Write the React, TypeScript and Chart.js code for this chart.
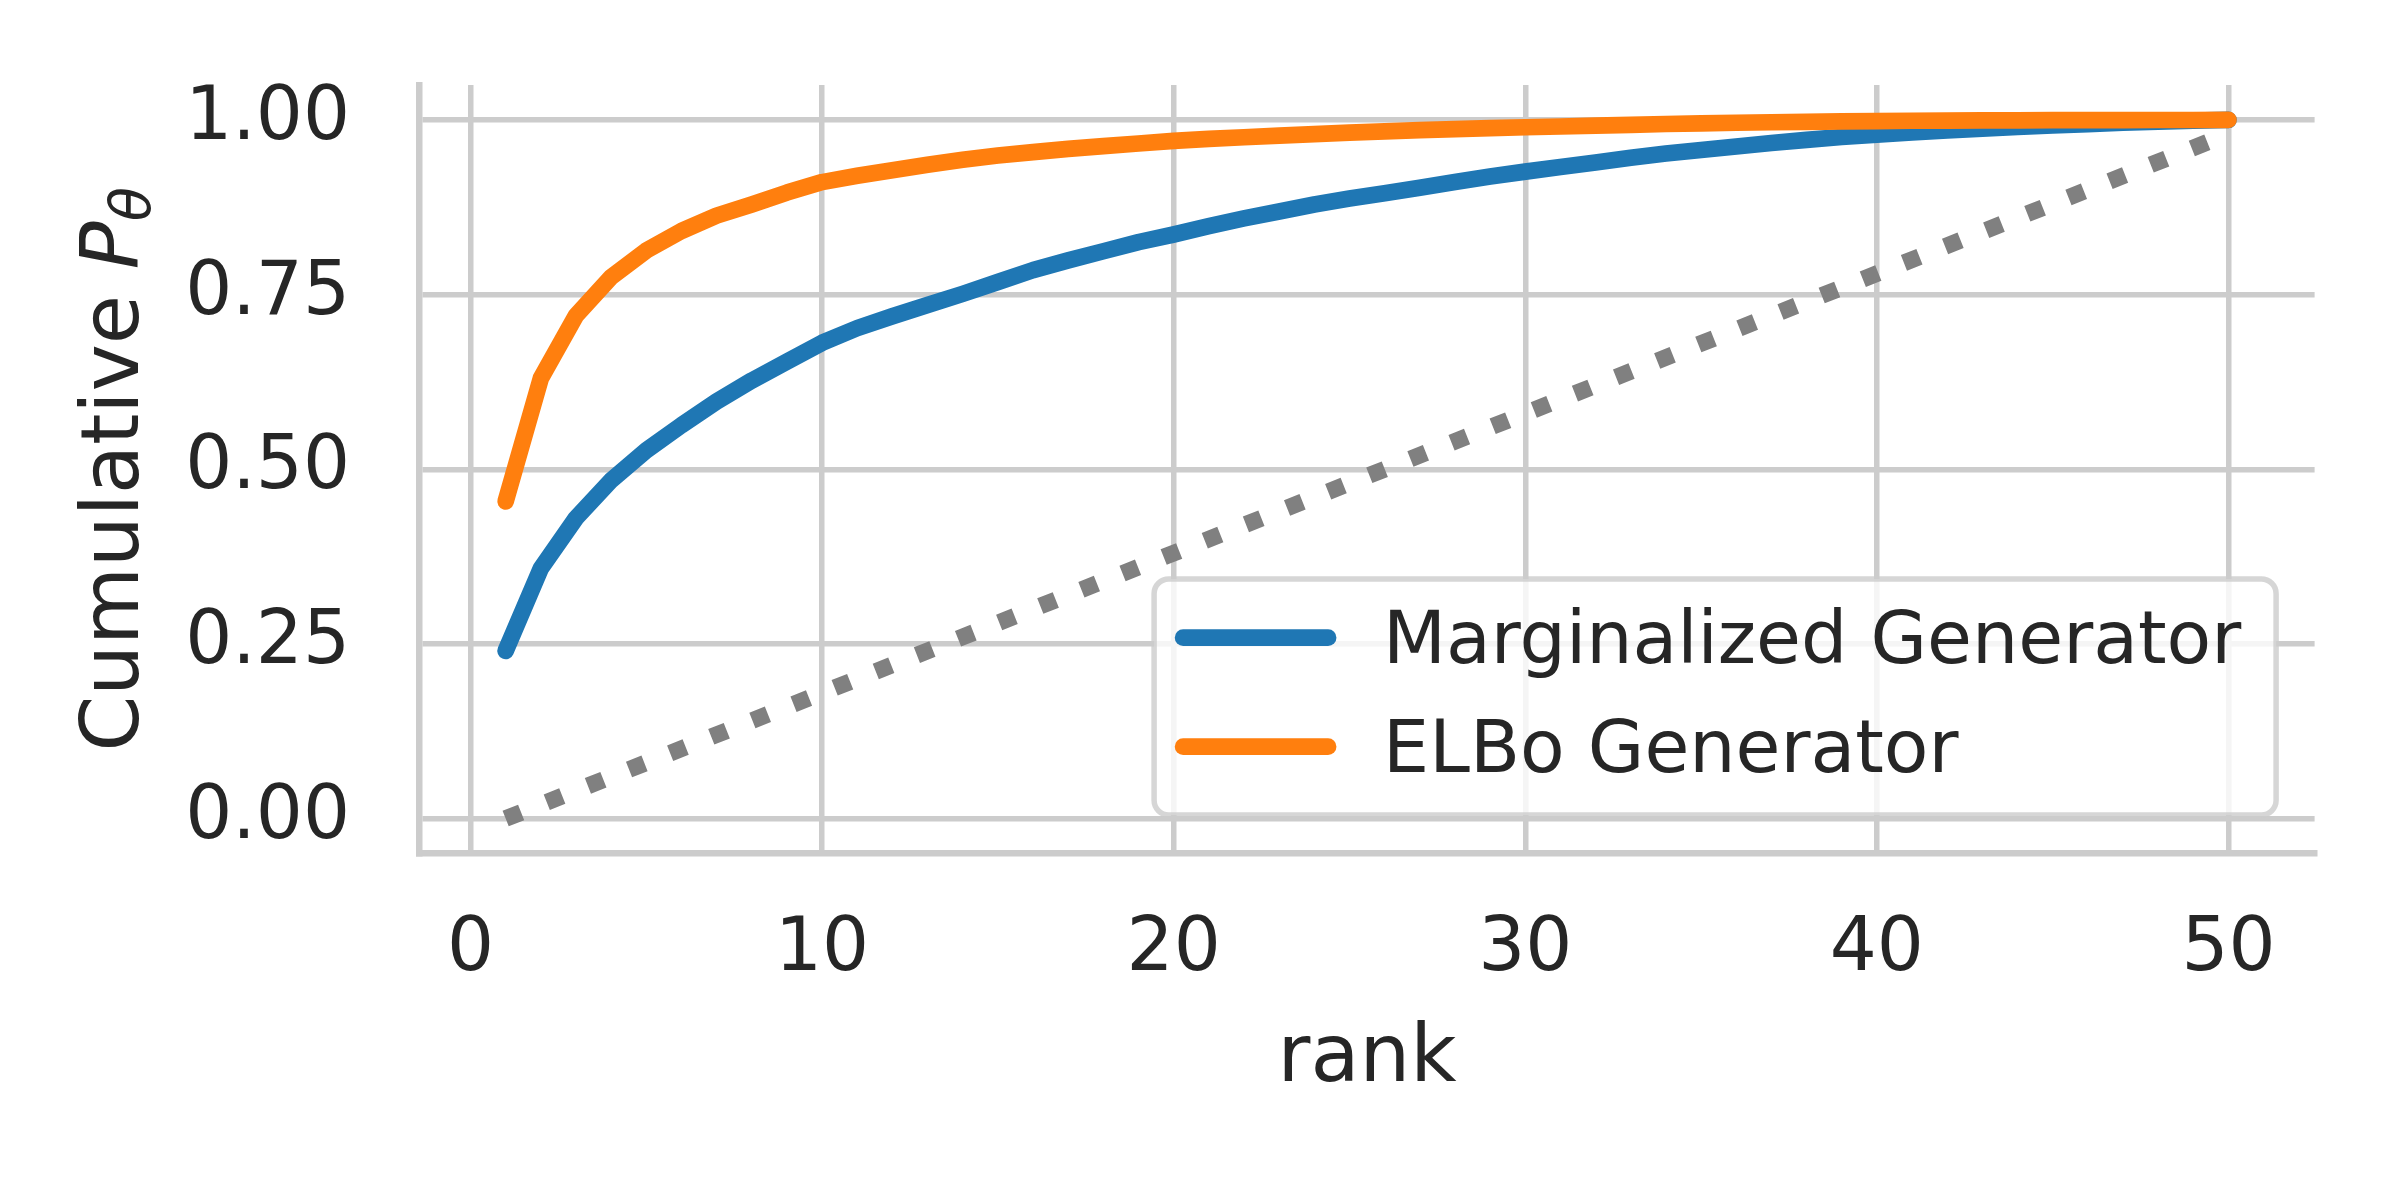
import React, { useEffect, useRef } from 'react';
import { Chart, registerables } from 'chart.js';

Chart.register(...registerables);

const ranks = [
  1, 2, 3, 4, 5, 6, 7, 8, 9, 10,
  11, 12, 13, 14, 15, 16, 17, 18, 19, 20,
  21, 22, 23, 24, 25, 26, 27, 28, 29, 30,
  31, 32, 33, 34, 35, 36, 37, 38, 39, 40,
  41, 42, 43, 44, 45, 46, 47, 48, 49, 50,
];

const marginalized = [
  0.240, 0.358, 0.430, 0.484, 0.527, 0.563, 0.597, 0.627, 0.654, 0.681,
  0.702, 0.719, 0.735, 0.751, 0.768, 0.785, 0.799, 0.812, 0.825, 0.836,
  0.848, 0.859, 0.869, 0.879, 0.8875, 0.895, 0.903, 0.911, 0.919, 0.926,
  0.9325, 0.939, 0.946, 0.952, 0.957, 0.962, 0.967, 0.9715, 0.9755, 0.979,
  0.982, 0.985, 0.9875, 0.990, 0.992, 0.994, 0.996, 0.9975, 0.999, 1.0,
];

const elbo = [
  0.454, 0.630, 0.720, 0.775, 0.813, 0.841, 0.863, 0.879, 0.896, 0.911,
  0.920, 0.928, 0.936, 0.943, 0.949, 0.954, 0.9585, 0.9625, 0.9663, 0.970,
  0.9728, 0.9752, 0.9776, 0.9798, 0.9818, 0.9836, 0.9853, 0.9868, 0.9882, 0.9895,
  0.9906, 0.9918, 0.9930, 0.9942, 0.9952, 0.9960, 0.9967, 0.9973, 0.9979, 0.9984,
  0.9988, 0.9991, 0.9993, 0.9995, 0.9996, 0.9997, 0.9998, 0.9999, 0.9999, 1.0,
];

// uniform reference (dotted) line endpoints
const uniformX = [1, 50];
const uniformY = [0.0, 0.98];

const seriesLabels = ['Marginalized Generator', 'ELBo Generator'];
const seriesColors = ['#1f77b4', '#ff7f0e'];
const xTickLabels = ['0', '10', '20', '30', '40', '50'];
const yTickLabels = ['0.00', '0.25', '0.50', '0.75', '1.00'];
const xTitle = 'rank';
const yTitleMain = 'Cumulative ';
const yTitleSymbol = 'P';
const yTitleSub = 'θ';

const FONT = '"DejaVu Sans", "Noto Sans", sans-serif';
const TEXT = '#262626';
const GRID = '#cccccc';
const LW = 16.7;

const yTitlePlugin = {
  id: 'yTitleMath',
  afterDraw(chart: any) {
    const { ctx, chartArea } = chart;
    const cy = (chartArea.top + chartArea.bottom) / 2;
    const bx = chartArea.left - 281.5;
    ctx.save();
    ctx.fillStyle = TEXT;
    ctx.textBaseline = 'alphabetic';
    ctx.textAlign = 'left';
    const mainFont = `80px ${FONT}`;
    const italFont = `italic 80px ${FONT}`;
    const subFont = `italic 56px ${FONT}`;
    ctx.font = mainFont;
    const w1 = ctx.measureText(yTitleMain).width;
    ctx.font = italFont;
    const w2 = ctx.measureText(yTitleSymbol).width;
    ctx.font = subFont;
    const w3 = ctx.measureText(yTitleSub).width;
    const total = w1 + w2 + w3;
    ctx.translate(bx, cy);
    ctx.rotate(-Math.PI / 2);
    let x = -total / 2;
    ctx.font = mainFont;
    ctx.fillText(yTitleMain, x, 0);
    x += w1;
    ctx.font = italFont;
    ctx.fillText(yTitleSymbol, x, 0);
    x += w2;
    ctx.font = subFont;
    ctx.fillText(yTitleSub, x, 12);
    ctx.restore();
  },
};

const legendPlugin = {
  id: 'boxLegend',
  afterDraw(chart: any) {
    const { ctx, chartArea } = chart;
    const w = 1122;
    const h = 236;
    const right = chartArea.right - 38.5;
    const bottom = chartArea.bottom - 38.5;
    const left = right - w;
    const top = bottom - h;
    const r = 14.7;
    ctx.save();
    ctx.beginPath();
    ctx.moveTo(left + r, top);
    ctx.lineTo(right - r, top);
    ctx.arcTo(right, top, right, top + r, r);
    ctx.lineTo(right, bottom - r);
    ctx.arcTo(right, bottom, right - r, bottom, r);
    ctx.lineTo(left + r, bottom);
    ctx.arcTo(left, bottom, left, bottom - r, r);
    ctx.lineTo(left, top + r);
    ctx.arcTo(left, top, left + r, top, r);
    ctx.closePath();
    ctx.fillStyle = 'rgba(255,255,255,0.8)';
    ctx.fill();
    ctx.lineWidth = 5.5;
    ctx.strokeStyle = 'rgba(204,204,204,0.8)';
    ctx.stroke();

    const rowsLine = [58.7, 167.7];
    const rowsText = [84.3, 192.7];
    for (let i = 0; i < seriesLabels.length; i++) {
      ctx.beginPath();
      ctx.lineWidth = LW;
      ctx.lineCap = 'round';
      ctx.strokeStyle = seriesColors[i];
      ctx.moveTo(left + 29, top + rowsLine[i]);
      ctx.lineTo(left + 174, top + rowsLine[i]);
      ctx.stroke();
      ctx.font = `73px ${FONT}`;
      ctx.fillStyle = TEXT;
      ctx.textAlign = 'left';
      ctx.textBaseline = 'alphabetic';
      ctx.fillText(seriesLabels[i], left + 229, top + rowsText[i]);
    }
    ctx.restore();
  },
};

export default function App() {
  const ref = useRef<HTMLCanvasElement | null>(null);

  useEffect(() => {
    if (!ref.current) return;
    const chart = new Chart(ref.current, {
      type: 'line',
      data: {
        datasets: [
          {
            label: seriesLabels[0],
            data: ranks.map((r, i) => ({ x: r, y: marginalized[i] })),
            borderColor: seriesColors[0],
            backgroundColor: seriesColors[0],
            borderWidth: LW,
            borderCapStyle: 'round',
            borderJoinStyle: 'round',
            pointRadius: 0,
            tension: 0,
            order: 1,
          },
          {
            label: seriesLabels[1],
            data: ranks.map((r, i) => ({ x: r, y: elbo[i] })),
            borderColor: seriesColors[1],
            backgroundColor: seriesColors[1],
            borderWidth: LW,
            borderCapStyle: 'round',
            borderJoinStyle: 'round',
            pointRadius: 0,
            tension: 0,
            order: 0,
          },
          {
            label: 'uniform',
            data: uniformX.map((x, i) => ({ x, y: uniformY[i] })),
            borderColor: '#808080',
            borderWidth: LW,
            borderDash: [LW, LW * 1.65],
            borderCapStyle: 'butt',
            pointRadius: 0,
            tension: 0,
            order: 2,
          },
        ],
      },
      options: {
        animation: false,
        responsive: false,
        devicePixelRatio: 1,
        layout: { padding: { left: 0, top: 85, right: 85.4, bottom: 0 } },
        plugins: {
          legend: { display: false },
          tooltip: { enabled: false },
        },
        scales: {
          x: {
            type: 'linear',
            min: -1.45,
            max: 52.45,
            afterFit: (s: any) => {
              s.height = 346.5;
              s.paddingLeft = 0;
              s.paddingRight = 0;
              s.paddingTop = 0;
              s.paddingBottom = 0;
            },
            ticks: {
              stepSize: 10,
              includeBounds: false,
              autoSkip: false,
              maxRotation: 0,
              padding: 53,
              color: TEXT,
              font: { family: FONT, size: 74 },
              callback: (_v: any, i: number) => xTickLabels[i],
            },
            grid: { color: GRID, lineWidth: 5.5, drawTicks: false },
            border: { display: true, color: GRID, width: 6.5 },
            title: {
              display: true,
              text: xTitle,
              color: TEXT,
              font: { family: FONT, size: 80 },
              padding: { top: 0, bottom: 91.7 },
            },
          },
          y: {
            type: 'linear',
            min: -0.05,
            max: 1.05,
            afterFit: (s: any) => {
              s.width = 419.5;
              s.paddingLeft = 0;
              s.paddingRight = 0;
              s.paddingTop = 0;
              s.paddingBottom = 0;
            },
            ticks: {
              stepSize: 0.25,
              includeBounds: false,
              autoSkip: false,
              padding: 69.5,
              color: TEXT,
              font: { family: FONT, size: 74 },
              callback: (_v: any, i: number) => yTickLabels[i],
            },
            grid: { color: GRID, lineWidth: 5.5, drawTicks: false },
            border: { display: true, color: GRID, width: 6.5 },
          },
        },
      },
      plugins: [yTitlePlugin, legendPlugin],
    } as any);
    return () => chart.destroy();
  }, []);

  return (
    <div style={{ position: 'fixed', left: 0, top: 0, width: 2400, height: 1200, background: '#ffffff' }}>
      <canvas ref={ref} width={2400} height={1200} style={{ width: 2400, height: 1200, display: 'block' }} />
    </div>
  );
}
